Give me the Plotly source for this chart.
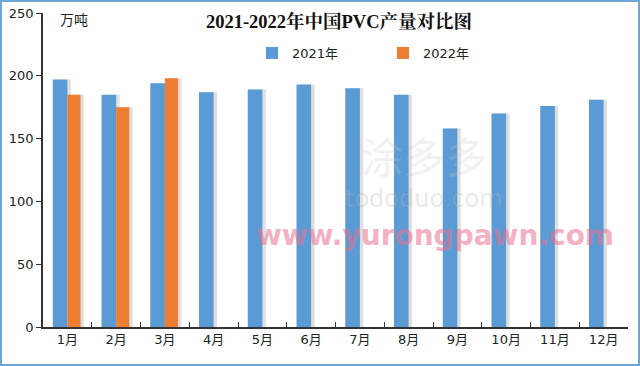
import plotly.graph_objects as go

months = ["1月", "2月", "3月", "4月", "5月", "6月", "7月", "8月", "9月", "10月", "11月", "12月"]
prod_2021 = [197, 185, 194, 187, 189, 193, 190, 185, 158, 170, 176, 181]
prod_2022 = [185, 175, 198]
months_2022 = months[:3]
y_ticks = [0, 50, 100, 150, 200, 250]

BLUE = "#5B9BD5"
ORANGE = "#ED7D31"
SHADOW = "rgba(110,110,110,0.22)"

BW = 0.30     # bar width in category units
SH = 0.07     # shadow shift

fig = go.Figure()
# soft drop shadows (drawn first)
fig.add_trace(go.Bar(x=months, y=prod_2021, width=BW, offset=-BW + SH, marker_color=SHADOW,
                     marker_line_width=0, showlegend=False, hoverinfo="skip"))
fig.add_trace(go.Bar(x=months_2022, y=prod_2022, width=BW - 0.03, offset=SH, marker_color=SHADOW,
                     marker_line_width=0, showlegend=False, hoverinfo="skip"))
fig.add_trace(go.Bar(x=months, y=prod_2021, name="2021年", width=BW, offset=-BW,
                     marker_color=BLUE, marker_line_width=0))
fig.add_trace(go.Bar(x=months_2022, y=prod_2022, name="2022年", width=BW - 0.03, offset=0,
                     marker_color=ORANGE, marker_line_width=0))

W, H = 640, 366
L, R, T, B = 43, 12, 13, 39
pw, ph = W - L - R, H - T - B

fig.update_layout(
    width=W, height=H,
    margin=dict(l=L, r=R, t=T, b=B, autoexpand=False),
    paper_bgcolor="white", plot_bgcolor="white",
    barmode="overlay",
    font=dict(family="DejaVu Sans, Noto Sans CJK SC", size=13, color="#222"),
    title=dict(text="<b>2021-2022年中国PVC产量对比图</b>", x=339 / W, xanchor="center",
               y=1 - 22 / H, yanchor="middle", automargin=False,
               font=dict(family="Liberation Serif, Noto Serif CJK SC, Noto Sans CJK SC", size=18.5, color="#111")),
    legend=dict(orientation="h", x=(252 - L) / pw, xanchor="left", y=(H - B - 53) / ph, yanchor="middle",
                bgcolor="rgba(0,0,0,0)", font=dict(size=13), entrywidth=86, entrywidthmode="pixels",
                traceorder="normal", itemwidth=30),
    xaxis=dict(showline=True, linecolor="#333", linewidth=1.5, ticks="inside", ticklen=5, tickcolor="#333",
               tickson="boundaries", showgrid=False, tickfont=dict(size=13), range=[-0.5, 11.5],
               automargin=False),
    yaxis=dict(showline=True, linecolor="#333", linewidth=1.5, ticks="outside", ticklen=5, tickcolor="#333",
               tickvals=y_ticks, range=[0, 250], showgrid=False, zeroline=False, tickfont=dict(size=13),
               automargin=False),
    showlegend=True,
)

fig.add_annotation(text="万吨", xref="paper", yref="paper", x=(58 - L) / pw, y=(H - B - 20) / ph,
                   xanchor="left", yanchor="middle", showarrow=False, font=dict(size=14, color="#222"))
fig.add_annotation(text="涂多多", xref="paper", yref="paper", x=(424 - L) / pw, y=(H - B - 154) / ph,
                   xanchor="center", yanchor="middle", showarrow=False,
                   font=dict(family="Noto Sans CJK SC", size=42, color="rgba(200,200,200,0.25)"))
fig.add_annotation(text="tododuo.com", xref="paper", yref="paper", x=(424 - L) / pw, y=(H - B - 199) / ph,
                   xanchor="center", yanchor="middle", showarrow=False,
                   font=dict(family="DejaVu Sans", size=24, color="rgba(180,180,180,0.3)"))
fig.add_annotation(text="<b>www.yurongpawn.com</b>", xref="paper", yref="paper", x=(435 - L) / pw, y=(H - B - 236) / ph,
                   xanchor="center", yanchor="middle", showarrow=False,
                   font=dict(family="DejaVu Sans", size=28, color="rgba(235,110,140,0.55)"))

# outer frame
fig.add_shape(type="rect", xref="paper", yref="paper",
              x0=-(L - 1) / pw, x1=1 + (R - 1) / pw, y0=-(B - 1) / ph, y1=1 + (T - 1) / ph,
              line=dict(color="#6FA6D6", width=2), layer="above")

fig.write_html("out.html", config={"displayModeBar": False},
               post_script="document.body.style.margin='0';document.body.style.overflow='hidden';")
